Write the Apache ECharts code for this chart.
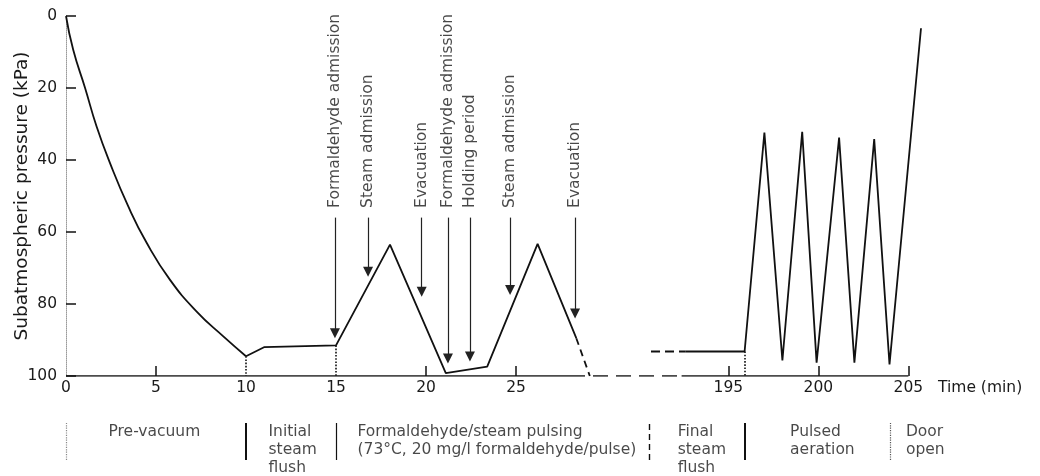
<!DOCTYPE html>
<html>
<head>
<meta charset="utf-8">
<script src="https://cdn.jsdelivr.net/npm/echarts@6/dist/echarts.min.js"></script>
<style>
html, body { margin: 0; background: #fff; }
#chart { width: 1040px; height: 476px; }
</style>
</head>
<body>
<div id="chart"></div>
<script>
// time axis is broken: the minutes between the pulsing and the final flush are cut out
var GAP = 158.2;
var xTicks = [0, 5, 10, 15, 20, 25, 195, 200, 205];
var xMinorTicks = [5, 20, 25, 195, 200, 205];
var shownTime = [[0, 28], [192.4, 205]];
var hiddenTime = [28, 192.4];

// pressure curve (min, kPa below atmospheric)
var preVacuum = [[0, 0], [0.4, 9.4], [1.06, 20], [1.7, 30.7], [2.44, 40.8], [3.46, 52.9],
    [4.48, 63], [5.78, 73.3], [7.26, 82.1], [8.74, 89], [10, 94.5]];
var pulsing = [[10, 94.5], [11, 92], [15, 91.5], [18, 63.5], [21.1, 99.2], [23.4, 97.4],
    [26.2, 63.3], [28.35, 89.5]];
var pulsingTail = [[28.35, 89.5], [29.1, 100]];
var flushLead = [[190.7, 93.2], [192.6, 93.2]];
var aeration = [[192.6, 93.2], [195.9, 93.2], [197.0, 32.4], [198.0, 95.7], [199.1, 32.2],
    [199.9, 96.3], [201.15, 33.8], [202.0, 96.3], [203.1, 34.2], [203.95, 96.8], [205.7, 3.4]];
var dropLines = [[10, 94.5], [15, 91.5], [195.9, 93.2]];

// arrows
var noteText = ['Formaldehyde admission', 'Steam admission', 'Evacuation',
    'Formaldehyde admission', 'Holding period', 'Steam admission', 'Evacuation'];
var noteTime = [14.94, 16.78, 19.76, 21.22, 22.44, 24.67, 28.28];
var noteTip = [89.5, 72.4, 78, 96.5, 96, 77.5, 84];
var NOTE_BASE = 53.3;
var ARROW_TOP = 56;

// phases under the axis
var phaseText = ['Pre-vacuum', 'Initial\nsteam\nflush',
    'Formaldehyde/steam pulsing\n(73\u00b0C, 20 mg/l formaldehyde/pulse)',
    'Final\nsteam\nflush', 'Pulsed\naeration', 'Door\nopen'];
var phaseStart = [0, 10, 15, 190.6, 195.9, 204];

var FONT = 'DejaVu Sans';
var INK = '#111';
var TXT = '#1a1a1a';

function dx(t) { return t > 100 ? t - GAP : t; }
function tx(v) { return v > 30 ? v + GAP : v; }
function pts(arr) { return arr.map(function (d) { return [dx(d[0]), d[1]]; }); }

function curve(data, type, smooth) {
    return {
        type: 'line', data: pts(data), symbol: 'none', smooth: smooth || false,
        silent: true,
        lineStyle: { color: INK, width: 1.8, type: type || 'solid' }
    };
}

var myChart = echarts.init(document.getElementById('chart'));

var series = [];
series.push(curve(preVacuum, 'solid', true));

var pulseLine = curve(pulsing);
pulseLine.markLine = {
    silent: true, symbol: 'none', animation: false,
    label: { show: false },
    lineStyle: { color: INK, width: 1.6, type: 'dotted' },
    data: dropLines.map(function (d) {
        return [{ coord: [dx(d[0]), d[1]] }, { coord: [dx(d[0]), 100] }];
    })
};
series.push(pulseLine);
series.push(curve(pulsingTail, [7, 5]));
series.push(curve(flushLead, [9, 5]));
series.push(curve(aeration));

// time axis drawn piece by piece
shownTime.forEach(function (r) {
    series.push({
        type: 'line', data: pts([[r[0], 100], [r[1], 100]]), symbol: 'none', silent: true,
        lineStyle: { color: INK, width: 1.5 }
    });
});
series.push({
    type: 'line', data: pts([[hiddenTime[0], 100], [hiddenTime[1], 100]]), symbol: 'none', silent: true,
    lineStyle: { color: INK, width: 1.5, type: [15, 8] }
});

// annotations with arrows
series.push({
    type: 'scatter', silent: true, symbolSize: 1,
    itemStyle: { color: 'rgba(0,0,0,0)' },
    data: noteTime.map(function (t) { return [dx(t), NOTE_BASE]; }),
    label: {
        show: true, position: 'inside', rotate: 90, align: 'left', verticalAlign: 'middle',
        fontFamily: FONT, fontSize: 15.5, color: TXT,
        formatter: function (p) { return noteText[p.dataIndex]; }
    },
    markLine: {
        silent: true, animation: false,
        symbol: ['none', 'triangle'], symbolSize: 10,
        label: { show: false },
        lineStyle: { color: '#222', width: 1.2, type: 'solid' },
        data: noteTime.map(function (t, i) {
            return [{ coord: [dx(t), ARROW_TOP] }, { coord: [dx(t), noteTip[i] - 5 / 3.6] }];
        })
    }
});

// phase labels and separators
var labelPad = [42, 22, 21, 28, 45, 15];
var sepStyle = [
    { color: '#888', width: 1.2, type: 'dotted' },
    { color: '#111', width: 2, type: 'solid' },
    { color: '#111', width: 1.2, type: 'solid' },
    { color: '#111', width: 1.4, type: [6, 4] },
    { color: '#111', width: 2, type: 'solid' },
    { color: '#555', width: 1.2, type: 'dotted' }
];
series.push({
    type: 'scatter', xAxisIndex: 1, yAxisIndex: 1, silent: true, symbolSize: 1,
    itemStyle: { color: 'rgba(0,0,0,0)' },
    data: phaseStart.map(function (t, i) {
        return {
            value: [dx(t), 1],
            label: { offset: [labelPad[i], 0] }
        };
    }),
    label: {
        show: true, position: 'right', distance: 0, align: 'left', verticalAlign: 'top',
        fontFamily: FONT, fontSize: 15.5, lineHeight: 18, color: TXT,
        formatter: function (p) { return phaseText[p.dataIndex]; }
    },
    markLine: {
        silent: true, animation: false, symbol: 'none',
        label: { show: false },
        data: phaseStart.map(function (t, i) {
            return { xAxis: dx(t), lineStyle: sepStyle[i] };
        })
    }
});

var option = {
    backgroundColor: '#fff',
    animation: false,
    textStyle: { fontFamily: FONT },
    grid: [
        { left: 66, top: 16, width: 864, height: 360 },
        { left: 66, top: 423, width: 864, height: 37 }
    ],
    xAxis: [
        {
            type: 'value', min: 0, max: 48,
            name: 'Time (min)', nameLocation: 'end', nameGap: 8,
            nameTextStyle: { fontFamily: FONT, fontSize: 15.5, color: TXT, verticalAlign: 'top', padding: [4, 0, 0, 0] },
            axisLine: { show: false, onZero: false },
            splitLine: { show: false },
            axisTick: {
                show: true, inside: true, length: 10, customValues: xMinorTicks.map(dx),
                lineStyle: { color: INK, width: 1.5, type: 'solid' }
            },
            axisLabel: {
                customValues: xTicks.map(dx), margin: 4,
                fontFamily: FONT, fontSize: 15.5, color: TXT,
                formatter: function (v) { return String(Math.round(tx(v))); }
            }
        },
        {
            type: 'value', min: 0, max: 48, gridIndex: 1, show: false
        }
    ],
    yAxis: [
        {
            type: 'value', inverse: true, min: 0, max: 100, interval: 20,
            name: 'Subatmospheric pressure (kPa)', nameLocation: 'middle', nameGap: 34,
            nameMoveOverlap: false,
            nameTextStyle: { fontFamily: FONT, fontSize: 18.5, color: TXT },
            axisLine: { show: true, lineStyle: { color: '#999', width: 1, type: 'dotted' } },
            axisTick: { show: true, inside: true, length: 10, lineStyle: { color: INK, width: 1.5, type: 'solid' } },
            splitLine: { show: false },
            axisLabel: { fontFamily: FONT, fontSize: 15.5, color: TXT, margin: 9 }
        },
        {
            type: 'value', min: 0, max: 1, gridIndex: 1, show: false
        }
    ],
    series: series
};

myChart.setOption(option);
</script>
</body>
</html>
